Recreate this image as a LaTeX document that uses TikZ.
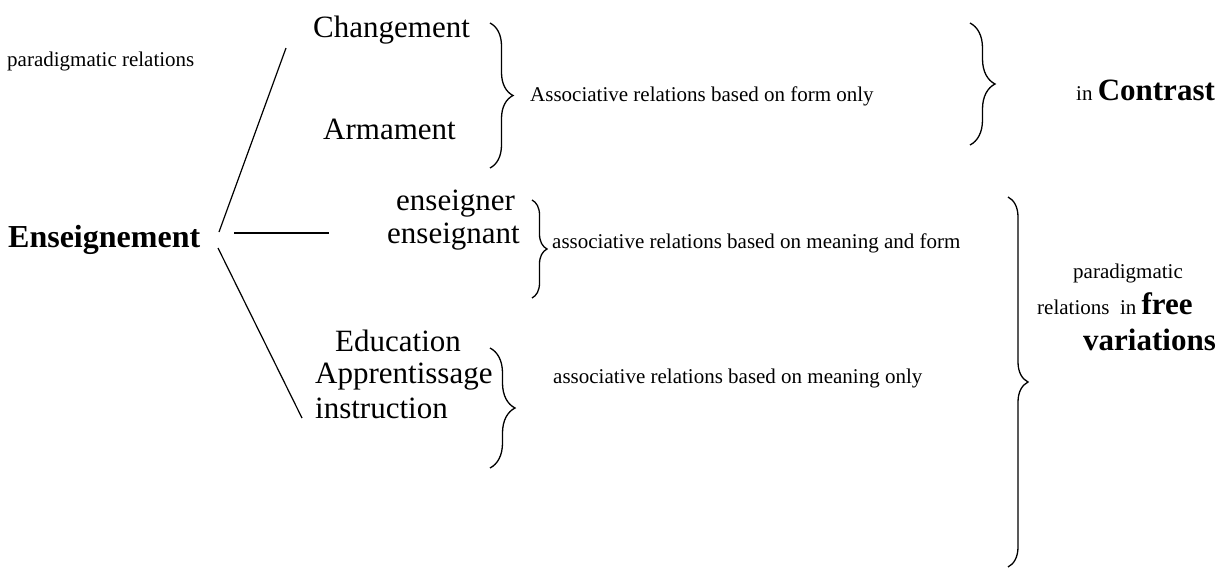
\documentclass[tikz,border=0pt]{standalone}
\usepackage{fontspec}
\setmainfont{Liberation Serif}
\usetikzlibrary{decorations.pathreplacing}
\newcommand{\bigtxt}{\fontsize{31}{34}\selectfont}
\newcommand{\smalltxt}{\fontsize{21}{24}\selectfont}

\begin{document}
\begin{tikzpicture}[x=1pt,y=-1pt,
  word/.style={inner sep=0pt,anchor=base west,font=\bigtxt},
  note/.style={inner sep=0pt,anchor=base west,font=\smalltxt},
  brc/.style={decorate,decoration={brace,amplitude=#1},line width=1.3pt},
  brc/.default=20,
  ln/.style={line width=1.2pt}]
\useasboundingbox (0,0) rectangle (1229,568);
% left side
\node (par) [note] at (7,66) {paradigmatic relations};
\node (ens) [word] at (8,247) {\fontsize{32}{34}\selectfont\textbf{Enseignement}};
% words
\node (chg) [word] at (313,37) {Changement};
\node (arm) [word] at (323,139) {Armament};
\node (ensr) [word] at (396,210) {enseigner};
\node (enst) [word] at (387,243) {enseignant};
\node (edu) [word] at (335,351) {Education};
\node (app) [word] at (315,383) {Apprentissage};
\node (ins) [word] at (315,418) {instruction};
%
\coordinate (e1) at (219,232);
\coordinate (c1) at (286,48);
\coordinate (e2) at (234,233);
\coordinate (c2) at (329,233);
\coordinate (e3) at (218,248);
\coordinate (c3) at (302,418);
\draw[ln] (e1) -- (c1);
\draw[ln] (e2) -- (c2);
\draw[ln] (e3) -- (c3);
% braces
\coordinate (b1t) at (490,23);  \coordinate (b1b) at (490,168);
\coordinate (b2t) at (970,23);  \coordinate (b2b) at (970,145);
\coordinate (b3t) at (532,200); \coordinate (b3b) at (532,298);
\coordinate (b4t) at (1008,197); \coordinate (b4b) at (1008,567);
\coordinate (b5t) at (490,348); \coordinate (b5b) at (490,468);
\draw[brc=23] (b1t) -- (b1b);
\draw[brc=25] (b2t) -- (b2b);
\draw[brc=15] (b3t) -- (b3b);
\draw[brc=20] (b4t) -- (b4b);
\draw[brc=25] (b5t) -- (b5b);
% relation labels
\node (aform) [note] at (530,101) {Associative relations based on form only};
\node (amf) [note] at (552,248) {associative relations based on meaning and form};
\node (amean) [note] at (553,383) {associative relations based on meaning only};
\node (contr) [note] at (1076,100) {in \textbf{\bigtxt Contrast}};
\node (fr1) [note] at (1073,278) {paradigmatic};
\node (fr2) [note] at (1037,314) {relations\ \ in \textbf{\bigtxt free}};
\node (fr3) [word] at (1083,350) {\textbf{variations}};
\end{tikzpicture}
\end{document}
